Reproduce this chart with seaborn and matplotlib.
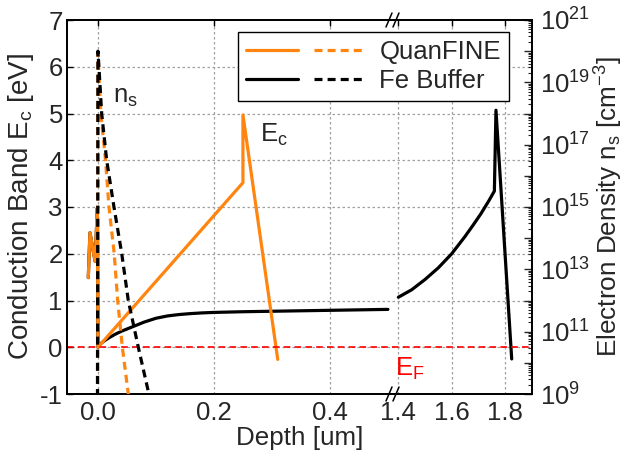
import numpy as np
import matplotlib
matplotlib.use('Agg')
import matplotlib.pyplot as plt
import seaborn as sns
from matplotlib.lines import Line2D
from matplotlib.legend_handler import HandlerTuple
from matplotlib.ticker import FuncFormatter, NullFormatter, FixedLocator

# ---------------- data ----------------
quan_ec_depth = [-0.0167, -0.0138, -0.005, -0.001, 0.0, 0.25, 0.25, 0.31]
quan_ec = [1.49, 2.45, 1.84, 2.98, 0.0, 3.52, 4.97, -0.26]

fe_ec_depth_a = [-0.0167, -0.0138, -0.005, -0.001, 0.0, 0.005, 0.01, 0.02, 0.03, 0.04,
                 0.05, 0.06, 0.07, 0.08, 0.09, 0.1, 0.12, 0.14, 0.16, 0.18, 0.2,
                 0.25, 0.3, 0.4, 0.5]
fe_ec_a = [1.49, 2.45, 1.84, 2.98, 0.0, 0.08, 0.13, 0.21, 0.28, 0.34,
           0.39, 0.44, 0.49, 0.54, 0.58, 0.62, 0.67, 0.70, 0.72, 0.735, 0.745,
           0.76, 0.77, 0.79, 0.81]
fe_ec_depth_b = [1.4, 1.45, 1.5, 1.55, 1.6, 1.65, 1.68, 1.71, 1.74, 1.76, 1.766, 1.825]
fe_ec_b = [1.07, 1.23, 1.45, 1.70, 2.0, 2.37, 2.61, 2.86, 3.14, 3.34, 5.07, -0.25]

quan_ns_depth = [-0.0008, 0.0, 0.005, 0.013, 0.019, 0.028, 0.034, 0.042, 0.053]
quan_ns = [8e8, 9e19, 1e18, 3.2e16, 1e15, 3.2e13, 1e12, 3.2e10, 8e8]
fe_ns_depth = [-0.0008, 0.0, 0.0064, 0.015, 0.0276, 0.041, 0.0523, 0.0695, 0.089]
fe_ns = [8e8, 1e20, 1e18, 3.2e16, 1e15, 3.2e13, 1e12, 3.2e10, 8e8]

x_ticks = [0.0, 0.2, 0.4, 1.4, 1.6, 1.8]
x_tick_labels = ['0.0', '0.2', '0.4', '1.4', '1.6', '1.8']
y_ticks = [-1, 0, 1, 2, 3, 4, 5, 6, 7]
ns_exponents = list(range(9, 22))

ORANGE = '#ff8510'
DASH = (0, (2.5, 1.6))

# ---------------- style ----------------
sns.set_theme(style='white')
plt.rcParams['font.family'] = ['Liberation Sans', 'DejaVu Sans']
plt.rcParams['mathtext.fontset'] = 'custom'
plt.rcParams['mathtext.rm'] = 'Liberation Sans'
plt.rcParams['mathtext.it'] = 'Liberation Sans:italic'
plt.rcParams['mathtext.bf'] = 'Liberation Sans:bold'
FS = 18.5

# broken x axis via function scale
B1, B2 = 0.507, 1.376
R = 266.7 / 580.0


def fwd(x):
    x = np.asarray(x, dtype=float)
    return np.where(x <= B1, x, np.where(x >= B2, B1 + (x - B2) * R, B1 + (x - B1) * 1e-4))


def inv(y):
    y = np.asarray(y, dtype=float)
    return np.where(y <= B1, y, B2 + (y - B1) / R)


fig = plt.figure(figsize=(6.24, 4.59), dpi=100)
ax = fig.add_axes([67 / 624, 1 - 394 / 459, (531.7 - 67) / 624, (394 - 20) / 459])
ax.set_xscale('function', functions=(fwd, inv))
ax.set_xlim(-0.0534, 1.9)
ax.set_ylim(-1, 7)

# grid
for xv in x_ticks:
    ax.axvline(xv, color='#a0a0a0', lw=0.9, ls=(0, (2, 2)), zorder=0)
for yv in y_ticks[1:-1]:
    ax.axhline(yv, color='#a0a0a0', lw=0.9, ls=(0, (2, 2)), zorder=0)

# Ec lines (left axis)
LW = 2.3
sns.lineplot(x=fe_ec_depth_a, y=fe_ec_a, ax=ax, color='black', lw=LW,
             sort=False, estimator=None, zorder=3)
sns.lineplot(x=fe_ec_depth_b, y=fe_ec_b, ax=ax, color='black', lw=LW,
             sort=False, estimator=None, zorder=3)
sns.lineplot(x=quan_ec_depth, y=quan_ec, ax=ax, color=ORANGE, lw=LW,
             sort=False, estimator=None, zorder=4)
ax.axhline(0, color='red', lw=1.2, ls=(0, (4, 2.5)), zorder=5)

ax.xaxis.set_major_locator(FixedLocator(x_ticks))
ax.set_xticklabels(x_tick_labels)
ax.xaxis.set_minor_locator(FixedLocator([]))
ax.xaxis.set_minor_formatter(NullFormatter())
ax.set_yticks(y_ticks)
ax.set_yticklabels([str(v) for v in y_ticks])
ax.tick_params(axis='both', labelsize=FS, direction='in', length=4, width=1,
               color='black')
ax.tick_params(axis='x', top=True, pad=5)
ax.tick_params(axis='y', left=True, pad=3)
for sp in ax.spines.values():
    sp.set_color('black')
    sp.set_linewidth(1.3)

ax.set_xlabel('Depth [um]', fontsize=18.7, labelpad=1)
ax.set_ylabel(r'Conduction Band E$_\mathregular{c}$ [eV]', fontsize=20, labelpad=3)

# ns lines (right axis)
ax2 = ax.twinx()
ax2.set_yscale('log')
ax2.set_ylim(1e9, 1e21)
sns.lineplot(x=quan_ns_depth, y=quan_ns, ax=ax2, color=ORANGE, lw=LW,
             linestyle=DASH, sort=False, estimator=None, zorder=3)
sns.lineplot(x=fe_ns_depth, y=fe_ns, ax=ax2, color='black', lw=LW,
             linestyle=DASH, sort=False, estimator=None, zorder=4)
ax2.set_xlim(-0.0534, 1.9)

major_vals = [10.0 ** e for e in ns_exponents]
minor_vals = [m * 10.0 ** e for e in ns_exponents[:-1] for m in range(2, 10)]
ax2.yaxis.set_major_locator(FixedLocator(major_vals))
ax2.yaxis.set_minor_locator(FixedLocator(minor_vals))


def fmt(v, pos):
    e = int(round(np.log10(v)))
    if e % 2 == 1:
        return r'$\mathregular{10^{%d}}$' % e
    return ''


ax2.yaxis.set_major_formatter(FuncFormatter(fmt))
ax2.yaxis.set_minor_formatter(NullFormatter())
ax2.tick_params(axis='y', which='major', direction='in', length=6, width=1,
                labelsize=FS, pad=6, right=True)
ax2.tick_params(axis='y', which='minor', direction='in', length=3, width=0.8,
                right=True)
ax2.set_ylabel(r'Electron Density n$_\mathregular{s}$ [cm$^\mathregular{-3}$]',
               fontsize=18.8, labelpad=2)
for sp in ax2.spines.values():
    sp.set_color('black')
    sp.set_linewidth(1.3)

# annotations
ax.text(0.026, 5.35, r'n$_\mathregular{s}$', fontsize=FS, ha='left', va='center', zorder=6)
ax.text(0.279, 4.55, r'E$_\mathregular{c}$', fontsize=FS, ha='left', va='center', zorder=6)
ax.text(1.388, -0.47, r'E$_\mathregular{F}$', fontsize=FS, color='red',
        ha='left', va='center', zorder=6)

# break marks
W = 464.7
H = 374.0
for cx in [389, 396]:
    fx = (cx - 67) / W
    dx = 3 / W
    dy = 7 / H
    for cy in [0.0, 1.0]:
        ax2.plot([fx - dx, fx + dx], [cy - dy, cy + dy], color='black', lw=1.1,
                 transform=ax2.transAxes, clip_on=False, zorder=10)

# legend
h_q = (Line2D([], [], color=ORANGE, lw=LW), Line2D([], [], color=ORANGE, lw=LW, ls=DASH))
h_f = (Line2D([], [], color='black', lw=LW), Line2D([], [], color='black', lw=LW, ls=DASH))
leg = ax2.legend([h_q, h_f], ['QuanFINE', 'Fe Buffer'],
                 handler_map={tuple: HandlerTuple(ndivide=None, pad=0.6)},
                 loc='upper left', bbox_to_anchor=((238 - 67) / W, (394 - 32) / H),
                 borderaxespad=0, fontsize=FS, handlelength=4.7, handletextpad=0.5,
                 frameon=True, fancybox=False, framealpha=1, edgecolor='black',
                 borderpad=0.3, labelspacing=0.2)
leg.get_frame().set_linewidth(1.0)
leg.set_zorder(20)

fig.savefig('out.png', dpi=100)
